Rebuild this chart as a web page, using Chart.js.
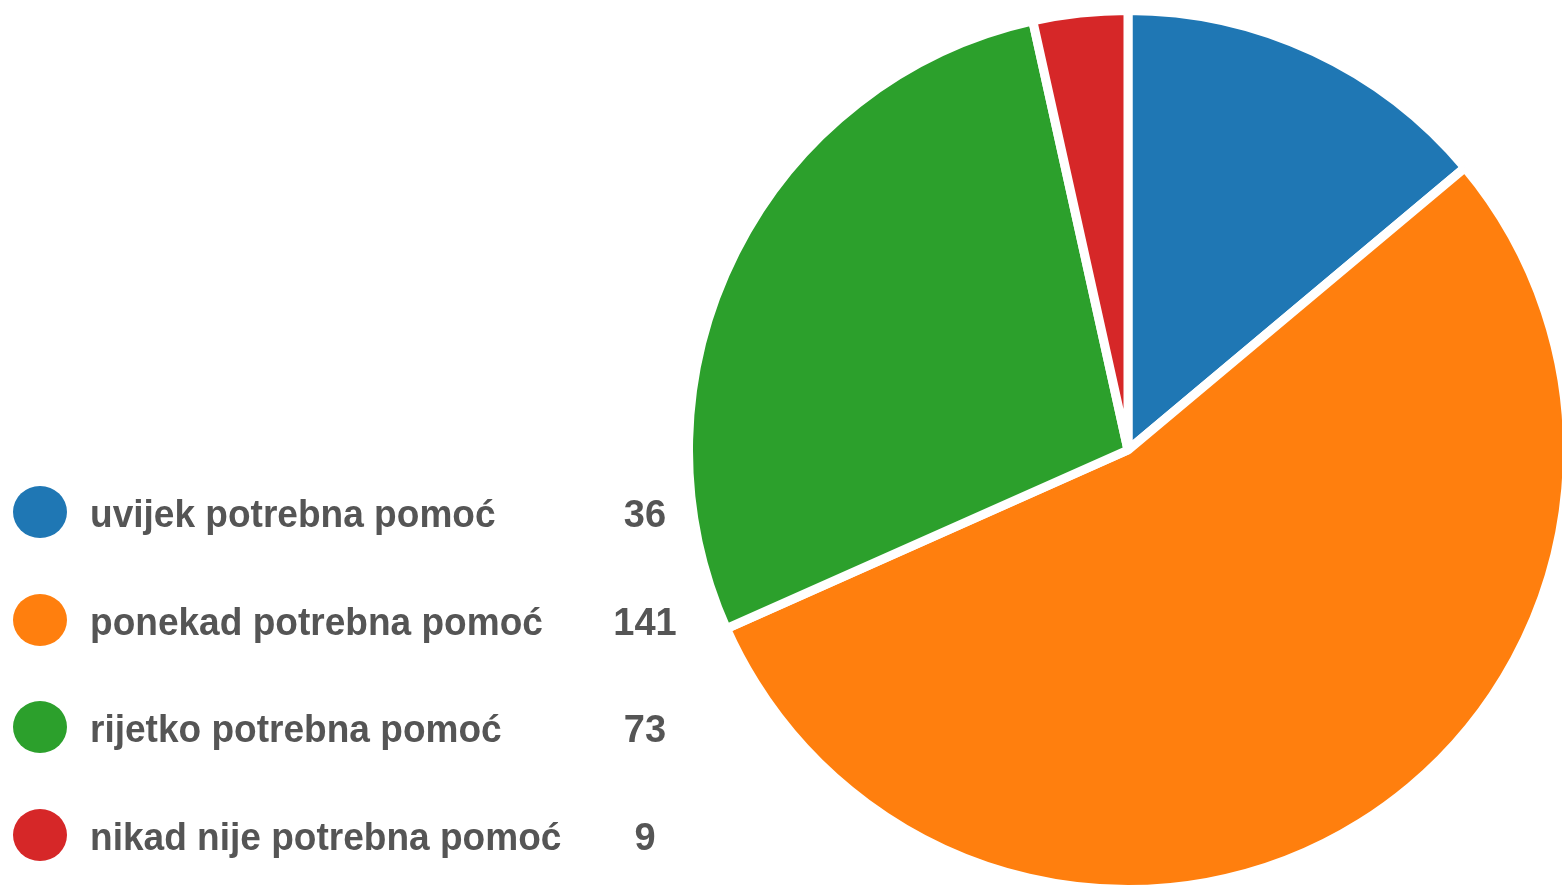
<!DOCTYPE html>
<html>
<head>
<meta charset="utf-8">
<script src="https://cdn.jsdelivr.net/npm/chart.js@4"></script>
<style>
  html, body { margin: 0; padding: 0; width: 1562px; height: 889px; overflow: hidden; background: #fff; }
  #wrap { position: absolute; left: 684px; top: 6px; width: 888px; height: 888px; }
  #legend { position: absolute; left: 0; top: 458px; font-family: "Liberation Sans", Arial, sans-serif; font-weight: bold; font-size: 38px; color: #555; }
  .row { position: relative; height: 107.7px; width: 700px; }
  .dot { position: absolute; left: 13px; top: 28px; width: 54px; height: 52px; border-radius: 50%; }
  .lab { position: absolute; left: 90px; top: 35px; white-space: nowrap; transform: scaleX(0.975); transform-origin: left; }
  .val { position: absolute; left: 595px; width: 100px; top: 35px; text-align: center; }
</style>
</head>
<body>
<div id="wrap"><canvas id="pie"></canvas></div>
<div id="legend"></div>
<script>
const categories = ['uvijek potrebna pomoć', 'ponekad potrebna pomoć', 'rijetko potrebna pomoć', 'nikad nije potrebna pomoć'];
const values = [36, 141, 73, 9];
const colors = ['#1f77b4', '#ff7f0e', '#2ca02c', '#d62728'];

const legend = document.getElementById('legend');
categories.forEach((c, i) => {
  const row = document.createElement('div');
  row.className = 'row';
  row.innerHTML = `<div class="dot" style="background:${colors[i]}"></div><div class="lab">${c}</div><div class="val">${values[i]}</div>`;
  legend.appendChild(row);
});

const ctx = document.getElementById('pie').getContext('2d');
const pie = new Chart(ctx, {
  type: 'pie',
  data: {
    labels: categories,
    datasets: [{
      data: values,
      backgroundColor: colors,
      borderColor: '#fff',
      borderWidth: 9
    }]
  },
  options: {
    responsive: true,
    maintainAspectRatio: false,
    animation: false,
    layout: { padding: 0 },
    plugins: { legend: { display: false }, tooltip: { enabled: false } }
  }
});
</script>
</body>
</html>
